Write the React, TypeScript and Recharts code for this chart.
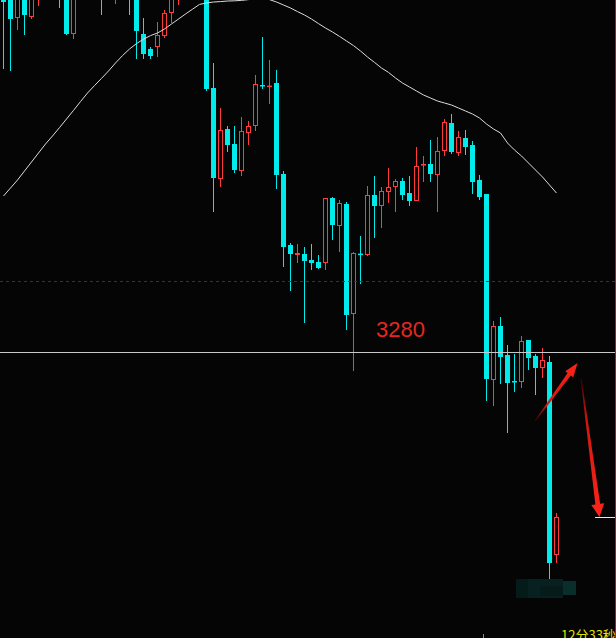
import React from 'react';
import { ComposedChart, Bar, Line, XAxis, YAxis, ReferenceLine } from 'recharts';

const W = 616;
const H = 638;
// the chart is taller than the window: tops of the old candles are cut off
const HIDDEN_TOP = 68;
const CHART_H = H + HIDDEN_TOP;
const SLOTS = 88;

const BG = '#050505';
const UP = '#ff3b3b';
const DOWN = '#00ecec';

// candles, oldest first
const opens = [
  3466, 3461, 3447, 3466, 3447.5, 3458.5, 3476, 3468.5, 3476, 3468.5,
  3439, 3466, 3478.5, 3468.5, 3476, 3466, 3460, 3471, 3468.5, 3461,
  3439, 3431.5, 3432.5, 3438, 3449.5, 3458.5, 3463.5, 3481, 3468.5, 3463.5,
  3412, 3366.5, 3391.5, 3384, 3370.5, 3389.5, 3393, 3413.5, 3412.5, 3414.5,
  3369, 3333.5, 3328.5, 3329, 3326, 3325, 3324.5, 3357, 3343, 3354,
  3299, 3329.2, 3328.5, 3358.5, 3353, 3360, 3362.5, 3365.5, 3359.5, 3355.5,
  3373.2, 3374, 3368.5, 3380.5, 3394.5, 3379.5, 3387, 3383.5, 3366, 3359,
  3266, 3293, 3278.5, 3265.5, 3265, 3286, 3278, 3272, 3275, 3178.5,
];
const closes = [
  3455, 3446.5, 3463.5, 3448.5, 3468.5, 3471, 3466, 3478.5, 3461, 3439,
  3466, 3476, 3463.5, 3481, 3458.5, 3478.5, 3473.5, 3461, 3457.5, 3440.5,
  3429, 3428, 3438.5, 3449.5, 3461, 3471, 3478.5, 3466, 3481, 3411.5,
  3367, 3391, 3383.5, 3371, 3390.5, 3393, 3414, 3412.8, 3413.2, 3368.5,
  3332.5, 3329, 3329.5, 3325.5, 3324.5, 3322, 3357, 3343.5, 3354.5, 3298.5,
  3329.5, 3328.5, 3358.5, 3353, 3360.5, 3362.5, 3365.5, 3358.5, 3355.5, 3373,
  3374, 3369, 3380.5, 3395, 3380, 3387.5, 3382.5, 3365, 3357.5, 3266.5,
  3293, 3277.5, 3264.5, 3264.8, 3285.5, 3277, 3272, 3276, 3174.5, 3197.5,
];
const highs = [
  3471, 3466, 3468.5, 3471, 3471, 3476, 3481, 3483.5, 3481, 3471,
  3468.5, 3481, 3483.5, 3486, 3481, 3483.5, 3478.5, 3476, 3473.5, 3466,
  3447, 3432.5, 3445, 3451, 3466, 3476, 3483.5, 3486, 3486, 3468.5,
  3424.5, 3402, 3393, 3393, 3397.5, 3395.5, 3418.5, 3437.5, 3426, 3421,
  3370.5, 3334.5, 3334, 3332.5, 3334, 3328.5, 3357, 3357.5, 3356, 3355,
  3330, 3338, 3363, 3368, 3362.5, 3372, 3366.5, 3367, 3368, 3382.5,
  3378, 3386, 3387.5, 3396.5, 3399, 3390.5, 3391, 3385.5, 3368.5, 3359,
  3295.5, 3297.5, 3283.5, 3279, 3288, 3286, 3279, 3282, 3278, 3199.5,
];
const lows = [
  3421.5, 3420.5, 3441, 3438.5, 3446.5, 3453, 3461, 3463.5, 3452, 3438.5,
  3436.5, 3461, 3460, 3463.5, 3448.5, 3461, 3454, 3457.5, 3448.5, 3426.5,
  3426.5, 3426.5, 3427.5, 3437, 3444.5, 3453.5, 3460, 3462, 3463.5, 3410.5,
  3350, 3362.5, 3380, 3369.5, 3368, 3383.5, 3390.5, 3411.5, 3404, 3361.5,
  3322.5, 3310.5, 3324.5, 3294.5, 3321, 3321.5, 3321, 3336, 3330, 3291,
  3270.5, 3314, 3328, 3337, 3342, 3354.5, 3350, 3356, 3353, 3355.5,
  3365, 3365, 3350, 3378, 3379, 3378, 3378.5, 3359, 3356, 3255.5,
  3253, 3264, 3239.5, 3260, 3262, 3271, 3258.5, 3267, 3166.5, 3174.5,
];
// white moving average
const ma = [
  3358, 3362, 3366, 3370.5, 3375, 3379.5, 3384, 3388, 3392.2, 3396.5,
  3400.8, 3405.2, 3409.5, 3413.2, 3416.8, 3420.5, 3424.5, 3428.2, 3431.5, 3434.2,
  3436.4, 3438.2, 3439.5, 3441.5, 3444, 3446.5, 3449, 3451.4, 3453.8, 3454.5,
  3455, 3455.2, 3455.5, 3455.6, 3455.8, 3456.2, 3456.8, 3456.8, 3456.2, 3455,
  3453.5, 3452, 3450.2, 3448.5, 3446.5, 3444.2, 3442, 3440, 3437.8, 3435.5,
  3433.2, 3430.5, 3427.5, 3424.8, 3422, 3419.8, 3417, 3414.5, 3412.5, 3410.5,
  3408.5, 3407, 3405.5, 3404.5, 3403.5, 3402, 3400.5, 3399, 3397, 3394,
  3391.5, 3389.5, 3384.5, 3381, 3378, 3374.5, 3371, 3367.5, 3363.5, 3359.5,
];

const Y_DOMAIN = [3137, 3490];
const X_DOMAIN = [-0.5, SLOTS - 0.5];

const supportLevel = 3279.75; // labelled 3280
const dashedLevel = 3315.25;
const lastPrice = 3197.25;
const lastMarkX = [84.5, 87.36];
const edgeX = 87.43;

// arrows drawn on the chart: tail -> tip, [slot, price]
const arrowUp = [[75.93, 3245.5], [82.0, 3274.5]];
const arrowDown = [[82.5, 3267], [85.14, 3197.5]];

const rows = Array.from({ length: SLOTS }, (_, i) =>
  i < opens.length
    ? { i, open: opens[i], close: closes[i], high: highs[i], low: lows[i], ma: ma[i] }
    : { i }
);

function Candle(props: any) {
  const { x, y, width, height, payload } = props;
  if (!payload || payload.high == null) return null;
  const { open, close, high, low } = payload;
  const top = Math.min(y, y + height);
  const k = high === low ? 0 : Math.abs(height) / (high - low);
  const py = (v: number) => top + (high - v) * k;
  const cx = Math.floor(x + width / 2) + 0.5;
  const up = close > open;
  const color = up ? UP : DOWN;
  const bTop = py(Math.max(open, close));
  const bBot = py(Math.min(open, close));
  const bh = bBot - bTop;

  if (!up || bh < 2.5) {
    return (
      <g>
        <line x1={cx} x2={cx} y1={py(high)} y2={py(low)} stroke={color} strokeWidth={1} />
        <rect x={cx - 2.5} y={bTop} width={5} height={Math.max(bh, 1.5)} fill={color} />
      </g>
    );
  }
  return (
    <g>
      <line x1={cx} x2={cx} y1={py(high)} y2={bTop} stroke={color} strokeWidth={1} />
      <line x1={cx} x2={cx} y1={bBot} y2={py(low)} stroke={color} strokeWidth={1} />
      <rect x={cx - 2} y={bTop + 0.5} width={4} height={bh - 1} fill={BG} stroke={color} strokeWidth={1} />
    </g>
  );
}

function Arrow(props: any) {
  const { x1, y1, x2, y2, gid, headLen, headHalf, shaftHalf } = props;
  const dx = x2 - x1;
  const dy = y2 - y1;
  const len = Math.hypot(dx, dy) || 1;
  const ux = dx / len;
  const uy = dy / len;
  const nx = -uy;
  const ny = ux;
  const bx = x2 - ux * headLen;
  const by = y2 - uy * headLen;
  const pt = (a: number, b: number) => `${a.toFixed(2)},${b.toFixed(2)}`;
  const pts = [
    pt(x1 + nx * 0.5, y1 + ny * 0.5),
    pt(bx + nx * shaftHalf, by + ny * shaftHalf),
    pt(bx + nx * headHalf, by + ny * headHalf),
    pt(x2, y2),
    pt(bx - nx * headHalf, by - ny * headHalf),
    pt(bx - nx * shaftHalf, by - ny * shaftHalf),
    pt(x1 - nx * 0.5, y1 - ny * 0.5),
  ].join(' ');
  return (
    <g>
      <defs>
        <linearGradient id={gid} gradientUnits="userSpaceOnUse" x1={x1} y1={y1} x2={x2} y2={y2}>
          <stop offset="0" stopColor="#3a0000" />
          <stop offset="0.3" stopColor="#d01810" />
          <stop offset="1" stopColor="#ff2418" />
        </linearGradient>
      </defs>
      <polygon points={pts} fill={`url(#${gid})`} />
    </g>
  );
}

const supportLabel = (p: any) => {
  const vb = p.viewBox || { x: 0, y: 0 };
  return (
    <text
      x={vb.x + 376}
      y={vb.y - 15.5}
      fill="#e8261e"
      fontSize={22}
      fontFamily='"Liberation Sans", Arial, sans-serif'
    >
      3280
    </text>
  );
};

export default function App() {
  return (
    <div
      style={{
        position: 'absolute',
        left: 0,
        top: 0,
        width: W,
        height: H,
        overflow: 'hidden',
        background: BG,
      }}
    >
      <div style={{ position: 'absolute', left: 0, top: -HIDDEN_TOP }}>
        <ComposedChart
          width={W}
          height={CHART_H}
          data={rows}
          margin={{ top: 0, right: 0, bottom: 0, left: 0 }}
        >
          <XAxis xAxisId="cat" dataKey="i" type="category" hide />
          <XAxis xAxisId="num" dataKey="i" type="number" domain={X_DOMAIN} hide />
          <YAxis type="number" domain={Y_DOMAIN} allowDataOverflow hide />

          <ReferenceLine xAxisId="num" y={dashedLevel} stroke="#900c18" strokeDasharray="3 3" />
          <ReferenceLine xAxisId="num" y={supportLevel} stroke="#c8c8c8" label={supportLabel} />
          <ReferenceLine xAxisId="num" x={edgeX} stroke="#a81c1c" />

          <Line
            xAxisId="num"
            dataKey="ma"
            type="linear"
            stroke="#dcdcdc"
            strokeWidth={1}
            dot={false}
            activeDot={false}
            isAnimationActive={false}
          />
          <Bar
            xAxisId="cat"
            dataKey={(d: any) => (d.high == null ? null : [d.low, d.high])}
            barSize={5}
            shape={<Candle />}
            activeBar={false}
            isAnimationActive={false}
          />

          <ReferenceLine
            xAxisId="num"
            segment={[
              { x: lastMarkX[0], y: lastPrice },
              { x: lastMarkX[1], y: lastPrice },
            ]}
            stroke="#e8e8e8"
          />
          <ReferenceLine
            xAxisId="num"
            segment={[
              { x: arrowUp[0][0], y: arrowUp[0][1] },
              { x: arrowUp[1][0], y: arrowUp[1][1] },
            ]}
            shape={(p: any) => <Arrow {...p} gid="arrowUp" headLen={14} headHalf={5} shaftHalf={2} />}
          />
          <ReferenceLine
            xAxisId="num"
            segment={[
              { x: arrowDown[0][0], y: arrowDown[0][1] },
              { x: arrowDown[1][0], y: arrowDown[1][1] },
            ]}
            shape={(p: any) => <Arrow {...p} gid="arrowDown" headLen={13} headHalf={6.5} shaftHalf={2.4} />}
          />
        </ComposedChart>
      </div>

      {/* blurred price tag */}
      <div style={{ position: 'absolute', left: 516, top: 579, width: 47, height: 19, background: '#062120' }} />
      <div style={{ position: 'absolute', left: 516, top: 579, width: 12, height: 19, background: '#041b1a' }} />
      <div style={{ position: 'absolute', left: 540, top: 586, width: 23, height: 10, background: '#051c1b' }} />
      <div style={{ position: 'absolute', left: 563, top: 581, width: 13, height: 14, background: '#0a2e2c' }} />

      <div style={{ position: 'absolute', left: 483, top: 634, width: 1, height: 4, background: '#888' }} />
      <div
        style={{
          position: 'absolute',
          left: 561,
          top: 625,
          fontSize: 13,
          lineHeight: '19px',
          color: '#e0e000',
          fontFamily: '"Noto Sans CJK SC", sans-serif',
          whiteSpace: 'nowrap',
        }}
      >
        12分33秒
      </div>
    </div>
  );
}
